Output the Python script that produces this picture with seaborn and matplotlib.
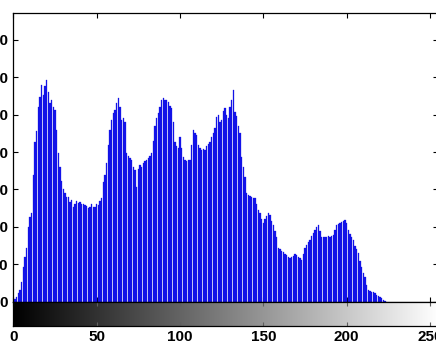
import numpy as np
import pandas as pd
import matplotlib
matplotlib.use("Agg")
import matplotlib.pyplot as plt
import seaborn as sns

# Gray-level histogram: pixel counts per intensity level 0..223 (higher levels are empty)
gray_levels = list(range(224))
pixel_counts = [
    25, 40, 65, 110, 155, 260, 465, 600, 720, 1000,
    1130, 1190, 1700, 2140, 2280, 2600, 2740, 2900, 2760, 2880,
    2965, 2800, 2660, 2700, 2600, 2560, 2300, 1990, 1800, 1620,
    1500, 1450, 1400, 1400, 1330, 1360, 1265, 1300, 1340, 1320,
    1335, 1310, 1300, 1295, 1280, 1250, 1265, 1300, 1270, 1265,
    1310, 1290, 1340, 1385, 1600, 1700, 1855, 2100, 2300, 2430,
    2520, 2565, 2650, 2725, 2600, 2430, 2450, 2405, 1990, 1950,
    1920, 1895, 1800, 1760, 1535, 1780, 1830, 1800, 1860, 1880,
    1895, 1920, 1950, 1990, 2150, 2350, 2450, 2525, 2600, 2700,
    2725, 2700, 2690, 2670, 2620, 2590, 2400, 2135, 2080, 2055,
    2200, 2050, 1935, 1900, 1880, 1890, 1895, 2100, 2295, 2260,
    2230, 2100, 2055, 2030, 2040, 2030, 2080, 2110, 2135, 2200,
    2260, 2320, 2470, 2500, 2400, 2430, 2550, 2590, 2500, 2455,
    2600, 2700, 2830, 2535, 2480, 2350, 2255, 1935, 1800, 1670,
    1450, 1430, 1410, 1400, 1390, 1385, 1300, 1225, 1180, 1100,
    1050, 1100, 1150, 1180, 1160, 1080, 1025, 940, 865, 720,
    700, 680, 665, 640, 620, 600, 585, 600, 610, 640,
    625, 600, 580, 555, 640, 720, 760, 800, 825, 880,
    920, 960, 1000, 1025, 940, 865, 870, 860, 865, 880,
    870, 880, 890, 960, 1025, 1040, 1050, 1065, 1080, 1095,
    1050, 960, 900, 860, 825, 740, 700, 650, 540, 465,
    380, 330, 220, 155, 140, 135, 130, 110, 90, 70,
    60, 50, 25, 10,
]
x_ticks = [0, 50, 100, 150, 200, 250]
y_ticks = [0, 500, 1000, 1500, 2000, 2500, 3000, 3500]

sns.set_style("white")
plt.rcParams["font.family"] = ["Liberation Sans", "DejaVu Sans"]
plt.rcParams["font.weight"] = "bold"

W, H = 436, 343
fig = plt.figure(figsize=(W / 100, H / 100), dpi=100)

x0, x1 = 13.3, 438.4          # data 0 and 255 in pixels
top, base, cb_bot = 13.3, 301.7, 326.0

ax = fig.add_axes([x0 / W, 1 - base / H, (x1 - x0) / W, (base - top) / H])
cax = fig.add_axes([x0 / W, 1 - cb_bot / H, (x1 - x0) / W, (cb_bot - base) / H])

df = pd.DataFrame({"level": gray_levels, "count": pixel_counts})
sns.barplot(data=df, x="level", y="count", native_scale=True, ax=ax,
            color="#1414ee", saturation=1, width=0.72,
            edgecolor="#1010d8", linewidth=0.2)

ax.set_xlim(0, 255)
ax.set_ylim(0, 3855)
ax.set_xticks(x_ticks)
ax.set_yticks(y_ticks)
ax.set_xlabel("")
ax.set_ylabel("")
ax.tick_params(axis="both", direction="in", length=3.5, width=0.8, color="black",
               labelcolor="black", top=True, right=True, bottom=True, left=True,
               labelbottom=False, labelsize=11, pad=3.6)
for s in ax.spines.values():
    s.set_color("black")
    s.set_linewidth(0.9)
    s.set_visible(True)

# Intensity color bar under the histogram
gradient = np.linspace(0, 1, 256)[None, :]
cax.imshow(gradient, cmap="gray", aspect="auto", extent=[0, 255, 0, 1],
           vmin=0, vmax=1)
cax.set_xlim(0, 255)
cax.set_ylim(0, 1)
cax.set_yticks([])
cax.set_xticks(x_ticks)
cax.tick_params(axis="x", direction="in", length=3, width=0.8, color="#606060",
                labelcolor="black", top=True, bottom=True, labelsize=11, pad=3.2)
for s in cax.spines.values():
    s.set_color("black")
    s.set_linewidth(0.9)
    s.set_visible(True)
for lab in cax.get_xticklabels() + ax.get_yticklabels():
    lab.set_fontweight("bold")

fig.savefig("out.png", dpi=100)
